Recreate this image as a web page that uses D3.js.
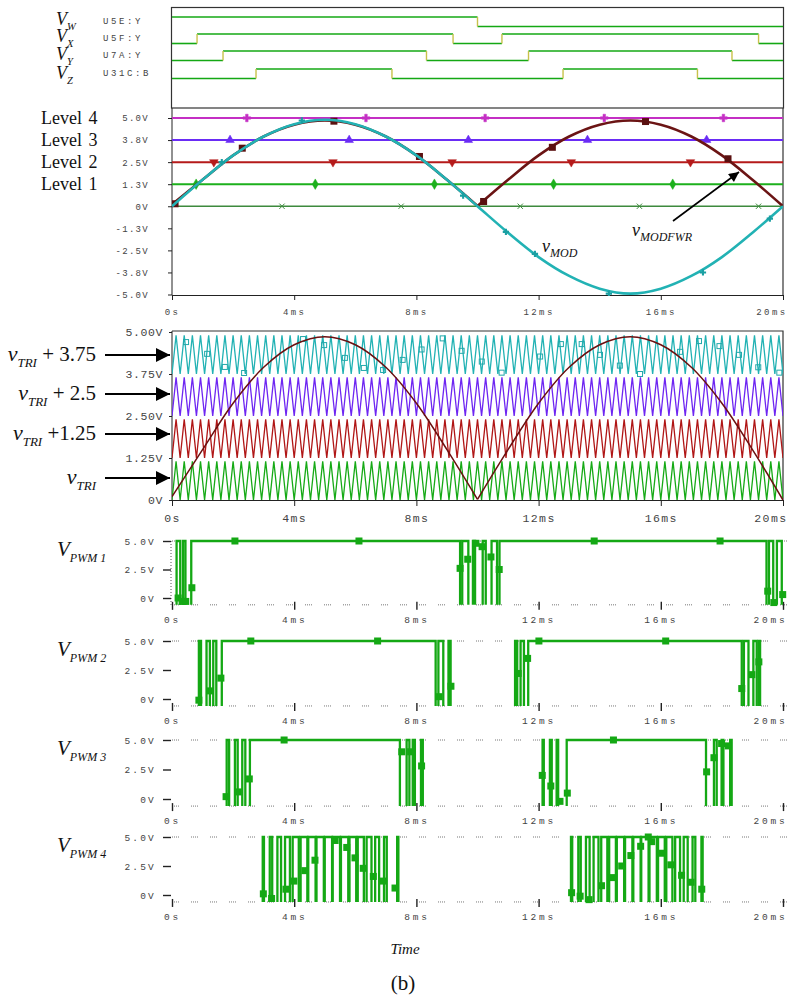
<!DOCTYPE html>
<html>
<head>
<meta charset="utf-8">
<script src="https://cdn.jsdelivr.net/npm/d3@7"></script>
<style>
body { margin: 0; background: #fff; }
svg { display: block; background: #fff; }
.mono { font-family: "Liberation Mono", "DejaVu Sans Mono", monospace; fill: #444; }
.serif { font-family: "Liberation Serif", "DejaVu Serif", serif; fill: #111; }
.axis path, .axis line { stroke: #222; }
</style>
</head>
<body>
<svg id="chart" width="790" height="996"></svg>
<script>
// ---------- data (ms / volts) ----------
var timeTicks = [0, 4, 8, 12, 16, 20];
var timeTickLabels = ["0s", "4ms", "8ms", "12ms", "16ms", "20ms"];

// digital comparator outputs: start state + toggle instants
var digNames = ["U5E:Y", "U5F:Y", "U7A:Y", "U31C:B"];
var digSubs = ["W", "X", "Y", "Z"];
var digStart = [1, 0, 0, 0];
var digToggles = [
    [10.0],
    [0.82, 9.2, 10.8, 19.2],
    [1.67, 8.33, 11.67, 18.33],
    [2.75, 7.2, 12.8, 17.2]
];

// level panel
var levelNames = ["Level 4", "Level 3", "Level 2", "Level 1"];
var levelValues = [5.0, 3.75, 2.5, 1.25, 0];
var levelTicks = [5, 3.75, 2.5, 1.25, 0, -1.25, -2.5, -3.75, -5];
var levelMarkTimes = [
    [2.45, 6.35, 10.25, 14.15, 18.05],
    [1.9, 5.8, 9.7, 13.6, 17.5],
    [1.37, 5.27, 9.17, 13.07, 16.97],
    [0.79, 4.69, 8.59, 12.49, 16.39],
    [3.6, 7.5, 11.4, 15.3, 19.2]
];

var modTimes = [0, 1, 2, 3, 4, 5, 6, 7, 8, 9, 10, 11, 12, 13, 14, 15, 16, 17, 18, 19, 20];
var vMod = [0, 1.5, 2.88, 3.95, 4.65, 4.9, 4.65, 3.95, 2.88, 1.5, 0, -1.5, -2.88, -3.95, -4.67, -4.95, -4.67, -3.95, -2.88, -1.5, 0];
var vModFwr = [0.1, 1.5, 2.88, 3.95, 4.62, 4.86, 4.62, 3.95, 2.88, 1.5, 0.02, 1.5, 2.88, 3.95, 4.62, 4.86, 4.62, 3.95, 2.88, 1.5, 0];
var fwrMarks = [[0.1, 0.14], [2.3, 3.29], [5.3, 4.82], [8.1, 2.82], [10.2, 0.27], [12.45, 3.34], [15.5, 4.8], [18.2, 2.69]];
var modMarks = [[1.63, 2.5], [4.25, 4.86], [9.53, 0.6], [10.93, -1.45], [11.88, -2.7], [14.3, -4.95], [17.38, -3.75], [19.57, -0.7]];

// carrier panel
var triCycles = 75;
var triBase = [0, 1.25, 2.5, 3.75];
var triSwing = 1.15;
var triTicks = [0, 1.25, 2.5, 3.75, 5];
var cyanMarks = [[0.46, 4.7], [1.15, 4.35], [1.73, 3.96], [2.36, 3.78], [4.29, 4.79], [4.98, 4.61], [5.66, 4.23], [6.28, 3.93],
    [6.91, 3.87], [7.55, 4.17], [8.17, 4.48], [8.86, 4.81], [9.48, 4.44], [10.14, 4.12], [10.79, 3.79], [12.05, 4.27],
    [12.73, 4.64], [13.41, 4.64], [14.01, 4.32], [14.66, 4.0], [15.32, 3.75], [16.63, 4.41], [17.25, 4.73], [17.92, 4.58],
    [18.56, 4.32], [19.19, 3.95], [19.88, 3.79]];

// PWM outputs: high intervals [on, off]
var pwmLow = -0.6;
var pwm1 = [[0.15, 0.27], [0.36, 0.44], [0.63, 9.43], [9.5, 9.7], [9.85, 9.92], [10.17, 10.27], [10.46, 10.64],
    [10.72, 19.46], [19.54, 19.68], [19.8, 19.96]];
var pwm2 = [[0.88, 0.95], [1.13, 1.24], [1.35, 1.45], [1.63, 8.63], [8.72, 8.88], [9.05, 9.12], [11.23, 11.3],
    [11.41, 11.52], [11.66, 18.65], [18.72, 18.87], [19.03, 19.14], [19.2, 19.25]];
var pwm3 = [[1.79, 1.87], [2.06, 2.15], [2.3, 2.4], [2.55, 7.46], [7.68, 7.77], [7.88, 7.95], [8.15, 8.21],
    [12.13, 12.17], [12.37, 12.43], [12.59, 12.64], [12.92, 17.48], [17.74, 17.83], [17.99, 18.05], [18.27, 18.32]];
var pwm4 = [[2.97, 3.01], [3.2, 3.28], [3.45, 3.57], [3.7, 3.86], [3.95, 4.15], [4.21, 4.43], [4.46, 4.7], [4.73, 4.97],
    [5.0, 5.24], [5.26, 5.5], [5.53, 5.77], [5.81, 6.03], [6.08, 6.28], [6.37, 6.53], [6.65, 6.78], [6.94, 7.03], [7.37, 7.41],
    [13.06, 13.1], [13.3, 13.38], [13.55, 13.67], [13.8, 13.96], [14.05, 14.25], [14.31, 14.53], [14.56, 14.8], [14.83, 15.07],
    [15.1, 15.34], [15.36, 15.6], [15.63, 15.87], [15.91, 16.13], [16.18, 16.38], [16.47, 16.63], [16.75, 16.88], [17.04, 17.13],
    [17.33, 17.37]];
var pwmMarks1 = [[0.2, 0], [0.33, -0.3], [0.45, -0.3], [0.65, 0.9], [2.06, 5], [6.12, 5], [9.43, 2.6], [9.68, 3.4], [9.95, 4.8],
    [10.15, 4.5], [10.44, 3.6], [10.71, 2.5], [13.82, 5], [17.94, 5], [19.5, 0.6], [19.7, -0.4], [19.99, 0.3]];
var pwmMarks2 = [[0.88, -0.1], [1.24, 0.7], [1.6, 1.8], [2.58, 5], [6.73, 5], [8.74, 0.2], [9.13, 1.1], [11.33, 2.2],
    [11.64, 3.5], [12.01, 5], [16.16, 5], [18.65, 0.9], [18.98, 2.1], [19.21, 3.2]];
var pwmMarks3 = [[1.77, 0.2], [2.17, 0.6], [2.53, 1.7], [3.67, 5], [7.52, 4], [7.81, 4], [8.17, 2.8], [12.12, 2], [12.4, 1.1],
    [12.7, -0.2], [12.94, 0.5], [14.45, 5], [17.5, 2.3], [17.74, 3.5], [17.99, 4.7], [18.21, 4.5]];
var pwmMarks4 = [[2.99, 0.1], [3.26, -0.3], [3.73, 0.5], [3.99, 1.2], [4.35, 2.1], [4.68, 3], [5.34, 4.7], [5.72, 4.1],
    [5.99, 3.2], [6.26, 2.3], [6.59, 1.6], [6.92, 1.2], [7.3, 0.6], [13.08, 0.2], [13.36, -0.1], [13.65, -0.4], [14.06, 0.8],
    [14.41, 1.5], [14.72, 2.5], [15.02, 3.4], [15.34, 4.2], [15.59, 5], [15.7, 4.6], [16.01, 3.6], [16.33, 2.6], [16.68, 1.7],
    [16.99, 1.1], [17.34, 0.5]];
var pwmTicks = [0, 2.5, 5];

// ---------- layout ----------
var svg = d3.select("#chart");
var x = d3.scaleLinear().domain([0, 20]).range([172, 783]);
var plotLeft = 172, plotRight = 783;

var GREEN = "#14a814";
var levelColors = ["#c42fc4", "#6a2cf5", "#b51a1a", "#1cb01c", "#3d8a3d"];
var triColors = ["#16aa16", "#b01616", "#6e26f2", "#22b2b4"];

var defs = svg.append("defs");
defs.append("marker").attr("id", "bigArrow")
    .attr("viewBox", "0 0 10 10").attr("refX", 10).attr("refY", 5)
    .attr("markerUnits", "userSpaceOnUse").attr("markerWidth", 15).attr("markerHeight", 14)
    .attr("orient", "auto")
    .append("path").attr("d", "M0,0L10,5L0,10Z").attr("fill", "#000");
defs.append("marker").attr("id", "smallArrow")
    .attr("viewBox", "0 0 10 10").attr("refX", 10).attr("refY", 5)
    .attr("markerUnits", "userSpaceOnUse").attr("markerWidth", 12).attr("markerHeight", 10)
    .attr("orient", "auto")
    .append("path").attr("d", "M0,0L10,5L0,10Z").attr("fill", "#000");

function addClip(id, y0, y1) {
    defs.append("clipPath").attr("id", id).append("rect")
        .attr("x", plotLeft).attr("y", y0).attr("width", plotRight - plotLeft).attr("height", y1 - y0);
}

// subscripted italic label, e.g. V_W
function subLabel(g, xPos, yPos, main, sub, mainSize, subSize, anchor) {
    var t = g.append("text").attr("class", "serif").attr("x", xPos).attr("y", yPos)
        .attr("text-anchor", anchor || "start");
    t.append("tspan").attr("font-style", "italic").attr("font-size", mainSize).text(main);
    t.append("tspan").attr("font-style", "italic").attr("font-size", subSize)
        .attr("dy", mainSize * 0.28).text(sub);
    return t;
}

// last time label sits flush left of the right edge
function fixLastLabel(axisG) {
    axisG.selectAll(".tick").filter(function(d) { return d === 20; }).select("text")
        .attr("text-anchor", "end").attr("x", 4);
}

// ---------- panel 1: digital outputs ----------
var p1 = svg.append("g");
p1.append("rect").attr("x", 171.5).attr("y", 7.5).attr("width", 612).attr("height", 100.5)
    .attr("fill", "none").attr("stroke", "#333").attr("stroke-width", 1.2);

var digHigh = [17, 34, 51, 69];
var digMainY = [25, 42, 60, 79];
digToggles.forEach(function(tg, i) {
    var yS = d3.scaleLinear().domain([0, 1]).range([digHigh[i] + 9.5, digHigh[i]]);
    var times = [0].concat(tg).concat([20]);
    var st = digStart[i];
    for (var k = 0; k < times.length - 1; k++) {
        p1.append("line")
            .attr("x1", x(times[k])).attr("x2", x(times[k + 1]))
            .attr("y1", yS(st)).attr("y2", yS(st))
            .attr("stroke", GREEN).attr("stroke-width", 1.6);
        st = 1 - st;
    }
    tg.forEach(function(t) {
        p1.append("line").attr("x1", x(t)).attr("x2", x(t))
            .attr("y1", yS(0)).attr("y2", yS(1))
            .attr("stroke", "#c8c24a").attr("stroke-width", 1.4);
    });
    p1.append("text").attr("class", "mono").attr("x", 103).attr("y", digHigh[i] + 7)
        .attr("font-size", 9).attr("letter-spacing", 2.6).text(digNames[i]);
    subLabel(p1, 56, digMainY[i], "V", digSubs[i], 18, 10.5);
});

// ---------- panel 2: levels and modulating signal ----------
var y2 = d3.scaleLinear().domain([-5, 5]).range([294.5, 118]);
var p2 = svg.append("g");
addClip("clip2", 108, 296);

var fmt1 = function(d) { return d === 0 ? "0V" : d.toFixed(1) + "V"; };
var ax2 = p2.append("g").attr("class", "axis").attr("transform", "translate(" + plotLeft + ",0)")
    .call(d3.axisLeft(y2).tickValues(levelTicks).tickFormat(fmt1).tickSize(4).tickSizeOuter(0).tickPadding(19));
ax2.select(".domain").attr("d", "M0,108V295");
var bx2 = p2.append("g").attr("class", "axis").attr("transform", "translate(0,295)")
    .call(d3.axisBottom(x).tickValues(timeTicks).tickFormat(function(d, i) { return timeTickLabels[i]; })
        .tickSize(5).tickSizeOuter(0).tickPadding(9));
[ax2, bx2].forEach(function(a) {
    a.selectAll("text").attr("font-size", 9).attr("letter-spacing", 1.3)
        .style("font-family", "'Liberation Mono', monospace").attr("fill", "#444");
});
bx2.selectAll("text").attr("letter-spacing", 2.4);
fixLastLabel(bx2);
p2.append("line").attr("x1", plotRight).attr("x2", plotRight).attr("y1", 108).attr("y2", 295)
    .attr("stroke", "#333").attr("stroke-width", 1.2);

var traces2 = p2.append("g").attr("clip-path", "url(#clip2)");
levelValues.forEach(function(v, i) {
    traces2.append("line").attr("x1", plotLeft).attr("x2", plotRight)
        .attr("y1", y2(v)).attr("y2", y2(v))
        .attr("stroke", levelColors[i]).attr("stroke-width", i === 4 ? 1.3 : 2);
});
var levelSymbols = [d3.symbolCross, d3.symbolTriangle, d3.symbolTriangle, d3.symbolDiamond, d3.symbolX];
levelMarkTimes.forEach(function(ts, i) {
    ts.forEach(function(t) {
        traces2.append("path")
            .attr("d", d3.symbol().type(levelSymbols[i]).size(i === 4 ? 20 : 32)())
            .attr("transform", "translate(" + x(t) + "," + y2(levelValues[i]) + ")" + (i === 2 ? " rotate(180)" : ""))
            .attr("fill", i === 4 ? "none" : levelColors[i])
            .attr("stroke", levelColors[i]).attr("stroke-width", i === 4 ? 1 : 0.5);
    });
});

var modData = modTimes.map(function(t, i) { return [t, vMod[i]]; });
var fwrData = modTimes.map(function(t, i) { return [t, vModFwr[i]]; });
var line2 = d3.line().x(function(d) { return x(d[0]); }).y(function(d) { return y2(d[1]); }).curve(d3.curveCatmullRom);
[fwrData.slice(0, 11), fwrData.slice(10)].forEach(function(seg) {
    traces2.append("path").attr("d", line2(seg)).attr("fill", "none")
        .attr("stroke", "#6b1414").attr("stroke-width", 2.6);
});
fwrMarks.forEach(function(m) {
    traces2.append("rect").attr("x", x(m[0]) - 3.5).attr("y", y2(m[1]) - 3.5).attr("width", 7).attr("height", 7)
        .attr("fill", "#5a1010");
});
traces2.append("path").attr("d", line2(modData)).attr("fill", "none")
    .attr("stroke", "#22b2b4").attr("stroke-width", 2.6);
modMarks.forEach(function(m) {
    traces2.append("path").attr("d", d3.symbol().type(d3.symbolCross).size(22)())
        .attr("transform", "translate(" + x(m[0]) + "," + y2(m[1]) + ")").attr("fill", "#1a9fa2");
});

levelNames.forEach(function(n, i) {
    p2.append("text").attr("class", "serif").attr("x", 41).attr("y", y2(levelValues[i]) + 6)
        .attr("font-size", 18).attr("word-spacing", 2).text(n);
});
subLabel(p2, 632, 236, "v", "MODFWR", 18, 12);
subLabel(p2, 542, 252, "v", "MOD", 18, 12);
p2.append("line").attr("x1", 673).attr("y1", 221).attr("x2", 739).attr("y2", 172)
    .attr("stroke", "#000").attr("stroke-width", 1.6).attr("marker-end", "url(#smallArrow)");

// ---------- panel 3: level-shifted carriers ----------
var y3 = d3.scaleLinear().domain([0, 5]).range([500, 332]);
var p3 = svg.append("g");
addClip("clip3", 331, 501);
var fmt2 = function(d) { return d === 0 ? "0V" : d.toFixed(2) + "V"; };
var ax3 = p3.append("g").attr("class", "axis").attr("transform", "translate(" + plotLeft + ",0)")
    .call(d3.axisLeft(y3).tickValues(triTicks).tickFormat(fmt2).tickSize(3).tickSizeOuter(0).tickPadding(6));
ax3.select(".domain").attr("d", "M0,331V500");
var bx3 = p3.append("g").attr("class", "axis").attr("transform", "translate(0,500)")
    .call(d3.axisBottom(x).tickValues(timeTicks).tickFormat(function(d, i) { return timeTickLabels[i]; })
        .tickSize(6).tickSizeOuter(0).tickPadding(8));
[ax3, bx3].forEach(function(a) {
    a.selectAll("text").attr("font-size", 11.5).attr("letter-spacing", 0.6)
        .style("font-family", "'Liberation Mono', monospace").attr("fill", "#444");
});
bx3.selectAll("text").attr("letter-spacing", 1.4);
fixLastLabel(bx3);
p3.append("path").attr("d", "M" + plotLeft + ",331H" + plotRight + "V500")
    .attr("fill", "none").attr("stroke", "#333").attr("stroke-width", 1.2);

var traces3 = p3.append("g").attr("clip-path", "url(#clip3)");
var line3 = d3.line().x(function(d) { return x(d[0]); }).y(function(d) { return y3(d[1]); });
triBase.forEach(function(b, j) {
    var pts = d3.range(2 * triCycles + 1).map(function(k) {
        return [k * 20 / (2 * triCycles), b + (k % 2 ? triSwing : 0)];
    });
    traces3.append("path").attr("d", line3(pts)).attr("fill", "none")
        .attr("stroke", triColors[j]).attr("stroke-width", 1.3);
});
cyanMarks.forEach(function(m) {
    traces3.append("rect").attr("x", x(m[0]) - 2.5).attr("y", y3(m[1]) - 2.5).attr("width", 5).attr("height", 5)
        .attr("fill", "none").attr("stroke", "#22a8aa").attr("stroke-width", 1);
});
var line3c = d3.line().x(function(d) { return x(d[0]); }).y(function(d) { return y3(d[1]); })
    .curve(d3.curveCatmullRom);
[fwrData.slice(0, 11), fwrData.slice(10)].forEach(function(seg) {
    traces3.append("path").attr("d", line3c(seg)).attr("fill", "none")
        .attr("stroke", "#6b1010").attr("stroke-width", 1.5);
});

var triLabels = [
    { rest: " + 3.75", y: 361 },
    { rest: " + 2.5", y: 400 },
    { rest: " +1.25", y: 440 },
    { rest: "", y: 484 }
];
var arrowY = [355, 394, 434, 478];
triLabels.forEach(function(l, i) {
    var t = subLabel(p3, 96, l.y, "v", "TRI", 22, 13, "end");
    if (l.rest) {
        t.append("tspan").attr("font-size", 21).attr("dy", -22 * 0.28).text(l.rest);
    }
    p3.append("line").attr("x1", 105).attr("x2", 170).attr("y1", arrowY[i]).attr("y2", arrowY[i])
        .attr("stroke", "#000").attr("stroke-width", 2).attr("marker-end", "url(#bigArrow)");
});

// ---------- PWM panels ----------
var pwmSets = [pwm1, pwm2, pwm3, pwm4];
var pwmMarkSets = [pwmMarks1, pwmMarks2, pwmMarks3, pwmMarks4];
var pwmZero = [598, 699, 799, 895];
var pwmFive = [541, 641, 740, 837];
var fmtP = function(d) { return d === 0 ? "0V" : d.toFixed(1) + "V"; };

pwmSets.forEach(function(set, i) {
    var y = d3.scaleLinear().domain([0, 5]).range([pwmZero[i], pwmFive[i]]);
    var floor = y(pwmLow);
    var g = svg.append("g");

    // dotted frame lines
    [floor, y(5)].forEach(function(yy) {
        g.append("line").attr("x1", plotLeft).attr("x2", plotRight + 8).attr("y1", yy).attr("y2", yy)
            .attr("stroke", "#777").attr("stroke-width", 1)
            .attr("stroke-dasharray", "1,1,1,1,1,1,1,12");
    });
    if (i === 0) {
        g.append("line").attr("x1", plotLeft - 1).attr("x2", plotLeft - 1).attr("y1", y(5)).attr("y2", floor)
            .attr("stroke", "#555").attr("stroke-dasharray", "1,2");
    }

    var ay = g.append("g").attr("class", "axis").attr("transform", "translate(" + (plotLeft - 1) + ",0)")
        .call(d3.axisLeft(y).tickValues(pwmTicks).tickFormat(fmtP).tickSize(8).tickSizeOuter(0).tickPadding(7));
    ay.select(".domain").remove();
    ay.selectAll("line").attr("stroke-width", 1.4);
    var axb = g.append("g").attr("class", "axis").attr("transform", "translate(0," + (floor - 3) + ")")
        .call(d3.axisBottom(x).tickValues(timeTicks).tickFormat(function(d, k) { return timeTickLabels[k]; })
            .tickSize(8).tickSizeOuter(0).tickPadding(6));
    axb.select(".domain").remove();
    axb.selectAll("line").attr("stroke-width", 1.4);
    [ay, axb].forEach(function(a) {
        a.selectAll("text").attr("font-size", 9.5).attr("letter-spacing", 2.2)
            .style("font-family", "'Liberation Mono', monospace").attr("fill", "#444");
    });
    axb.selectAll("text").attr("letter-spacing", 2.8);
    fixLastLabel(axb);

    var pl = d3.line().x(function(d) { return x(d[0]); }).y(function(d) { return y(d[1]); });
    set.forEach(function(iv) {
        g.append("path")
            .attr("d", pl([[iv[0], pwmLow], [iv[0], 5], [iv[1], 5], [iv[1], pwmLow]]))
            .attr("fill", "none").attr("stroke", GREEN).attr("stroke-width", 2.3);
    });
    pwmMarkSets[i].forEach(function(m) {
        g.append("rect").attr("x", x(m[0]) - 3.5).attr("y", y(m[1]) - 3.5).attr("width", 7).attr("height", 7)
            .attr("fill", GREEN);
    });

    subLabel(g, 57, pwmFive[i] + 15, "V", "PWM " + (i + 1), 21, 12);
});

// ---------- captions ----------
svg.append("text").attr("class", "serif").attr("x", 405).attr("y", 954).attr("text-anchor", "middle")
    .attr("font-size", 15).attr("font-style", "italic").text("Time");
svg.append("text").attr("class", "serif").attr("x", 403).attr("y", 990).attr("text-anchor", "middle")
    .attr("font-size", 21).text("(b)");
</script>
</body>
</html>
